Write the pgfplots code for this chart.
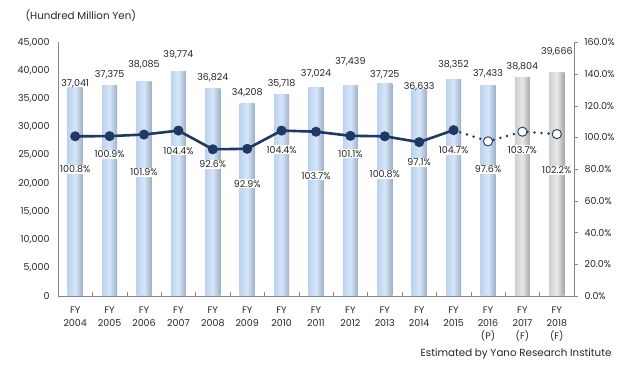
\documentclass[border=0pt]{standalone}
\usepackage{fontspec}
\setmainfont{Poppins}
\usepackage{pgfplots}
\pgfplotsset{compat=1.18}
\usepackage{pgfplotstable}
\definecolor{navy}{HTML}{1F3864}
\definecolor{axgray}{HTML}{868686}
\definecolor{txt}{HTML}{262626}
\definecolor{bbL}{HTML}{BCD2EE}
\definecolor{bbM}{HTML}{D6E6F9}
\definecolor{bbR}{HTML}{9DB0C9}
\definecolor{bgL}{HTML}{CFCFCF}
\definecolor{bgM}{HTML}{E8E8E8}
\definecolor{bgR}{HTML}{A6A6A6}

\pgfplotstableread{
x v off
0 37041 4
1 37375 11
2 38085 17
3 39774 17.5
4 36824 11
5 34208 11
6 35718 11
7 37024 14
8 37439 23
9 37725 9
10 36633 3
11 38352 15.5
12 37433 11
13 38804 11
14 39666 21
}\barsAll
\pgfplotstableread{
x p off
0 100.8 33
1 100.9 18
2 101.9 38
3 104.4 20
4 92.6 15
5 92.9 35
6 104.4 19
7 103.7 44
8 101.1 18
9 100.8 38
10 97.1 20
11 104.7 20
12 97.6 28
13 103.7 18
14 102.2 36
}\pct

\begin{document}
\begin{tikzpicture}[font=\fontsize{9.5}{14}\selectfont, text=txt]
\useasboundingbox (-58pt,-75pt) rectangle (578pt,296pt);
\begin{axis}[
  at={(0pt,0pt)}, anchor=south west, scale only axis,
  width=516pt, height=253.5pt,
  xmin=-0.5, xmax=14.5, ymin=0, ymax=45000,
  axis x line*=bottom, axis y line*=left,
  axis line style={axgray, line width=0.8pt},
  clip=false,
  xtick={0,...,14},
  xticklabels={{FY\\[-1pt]2004},{FY\\[-1pt]2005},{FY\\[-1pt]2006},{FY\\[-1pt]2007},{FY\\[-1pt]2008},{FY\\[-1pt]2009},{FY\\[-1pt]2010},{FY\\[-1pt]2011},{FY\\[-1pt]2012},{FY\\[-1pt]2013},{FY\\[-1pt]2014},{FY\\[-1pt]2015},{FY\\[-1pt]2016\\[-1pt](P)},{FY\\[-1pt]2017\\[-1pt](F)},{FY\\[-1pt]2018\\[-1pt](F)}},
  xticklabel style={align=center, anchor=north, yshift=-7pt, text=txt, font=\fontsize{9.5}{14}\selectfont},
  minor xtick={0.5,1.5,...,13.5},
  major tick length=0pt, minor tick length=4pt, tick align=inside,
  minor tick style={axgray, line width=0.6pt},
  ytick={0,5000,...,45000},
  scaled y ticks=false,
  yticklabel style={/pgf/number format/1000 sep={,}, /pgf/number format/assume math mode=true, xshift=-5pt, text=txt},
]
\pgfplotsinvokeforeach{0,...,12}{
\addplot[ybar, bar width=15pt, bar shift=0pt, draw=none,
  left color=bbL, right color=bbR, middle color=bbM,
  restrict x to domain=#1:#1]
  table[x=x, y=v] {\barsAll};
}
\pgfplotsinvokeforeach{13,14}{
\addplot[ybar, bar width=15pt, bar shift=0pt, draw=none,
  left color=bgL, right color=bgR, middle color=bgM,
  restrict x to domain=#1:#1]
  table[x=x, y=v] {\barsAll};
}
\addplot[draw=none, no marks, point meta=explicit,
  visualization depends on={\thisrow{off}\as\myoff},
  nodes near coords={\pgfmathprintnumber[fixed,precision=0,1000 sep={,},assume math mode=true]{\pgfplotspointmeta}},
  nodes near coords style={anchor=center, yshift=\myoff pt, text=txt}]
  table[x=x, y=v, meta=v] {\barsAll};
\end{axis}
\begin{axis}[
  at={(0pt,0pt)}, anchor=south west, scale only axis,
  width=516pt, height=253.5pt,
  xmin=-0.5, xmax=14.5, ymin=0, ymax=160,
  axis x line=none, axis y line*=right,
  axis line style={axgray, line width=0.8pt},
  clip=false,
  ytick={0,20,...,160},
  yticklabel={\pgfmathprintnumber[fixed,fixed zerofill,precision=1,assume math mode=true]{\tick}\%},
  yticklabel style={xshift=3pt, text=txt},
  major tick length=4pt, tick align=outside,
  major tick style={axgray, line width=0.6pt},
]
\addplot[navy, line width=2.8pt, dash pattern=on 0pt off 7pt, line cap=round, no marks,
  restrict x to domain=11:14] table[x=x, y=p] {\pct};
\addplot[navy, line width=2.6pt, mark=*, mark size=4.6pt,
  mark options={solid, fill=navy, draw=navy, line width=0.8pt},
  restrict x to domain=0:11] table[x=x, y=p] {\pct};
\addplot[only marks, mark=*, mark size=4.6pt,
  mark options={solid, fill=white, draw=navy, line width=0.9pt},
  restrict x to domain=12:14] table[x=x, y=p] {\pct};
\addplot[draw=none, no marks, point meta=explicit,
  visualization depends on={\thisrow{off}\as\myoff},
  nodes near coords={\pgfmathprintnumber[fixed,fixed zerofill,precision=1,assume math mode=true]{\pgfplotspointmeta}\%},
  nodes near coords style={anchor=center, yshift=-\myoff pt, fill=white, inner sep=1pt, text=txt}]
  table[x=x, y=p, meta=p] {\pct};
\end{axis}
\node[anchor=west, text=txt, font=\fontsize{10.3}{12}\selectfont] at (-36pt,280pt) {(Hundred Million Yen)};
\node[anchor=east, text=txt, font=\fontsize{10.3}{12}\selectfont] at (557pt,-58pt) {Estimated by Yano Research Institute};
\end{tikzpicture}
\end{document}
